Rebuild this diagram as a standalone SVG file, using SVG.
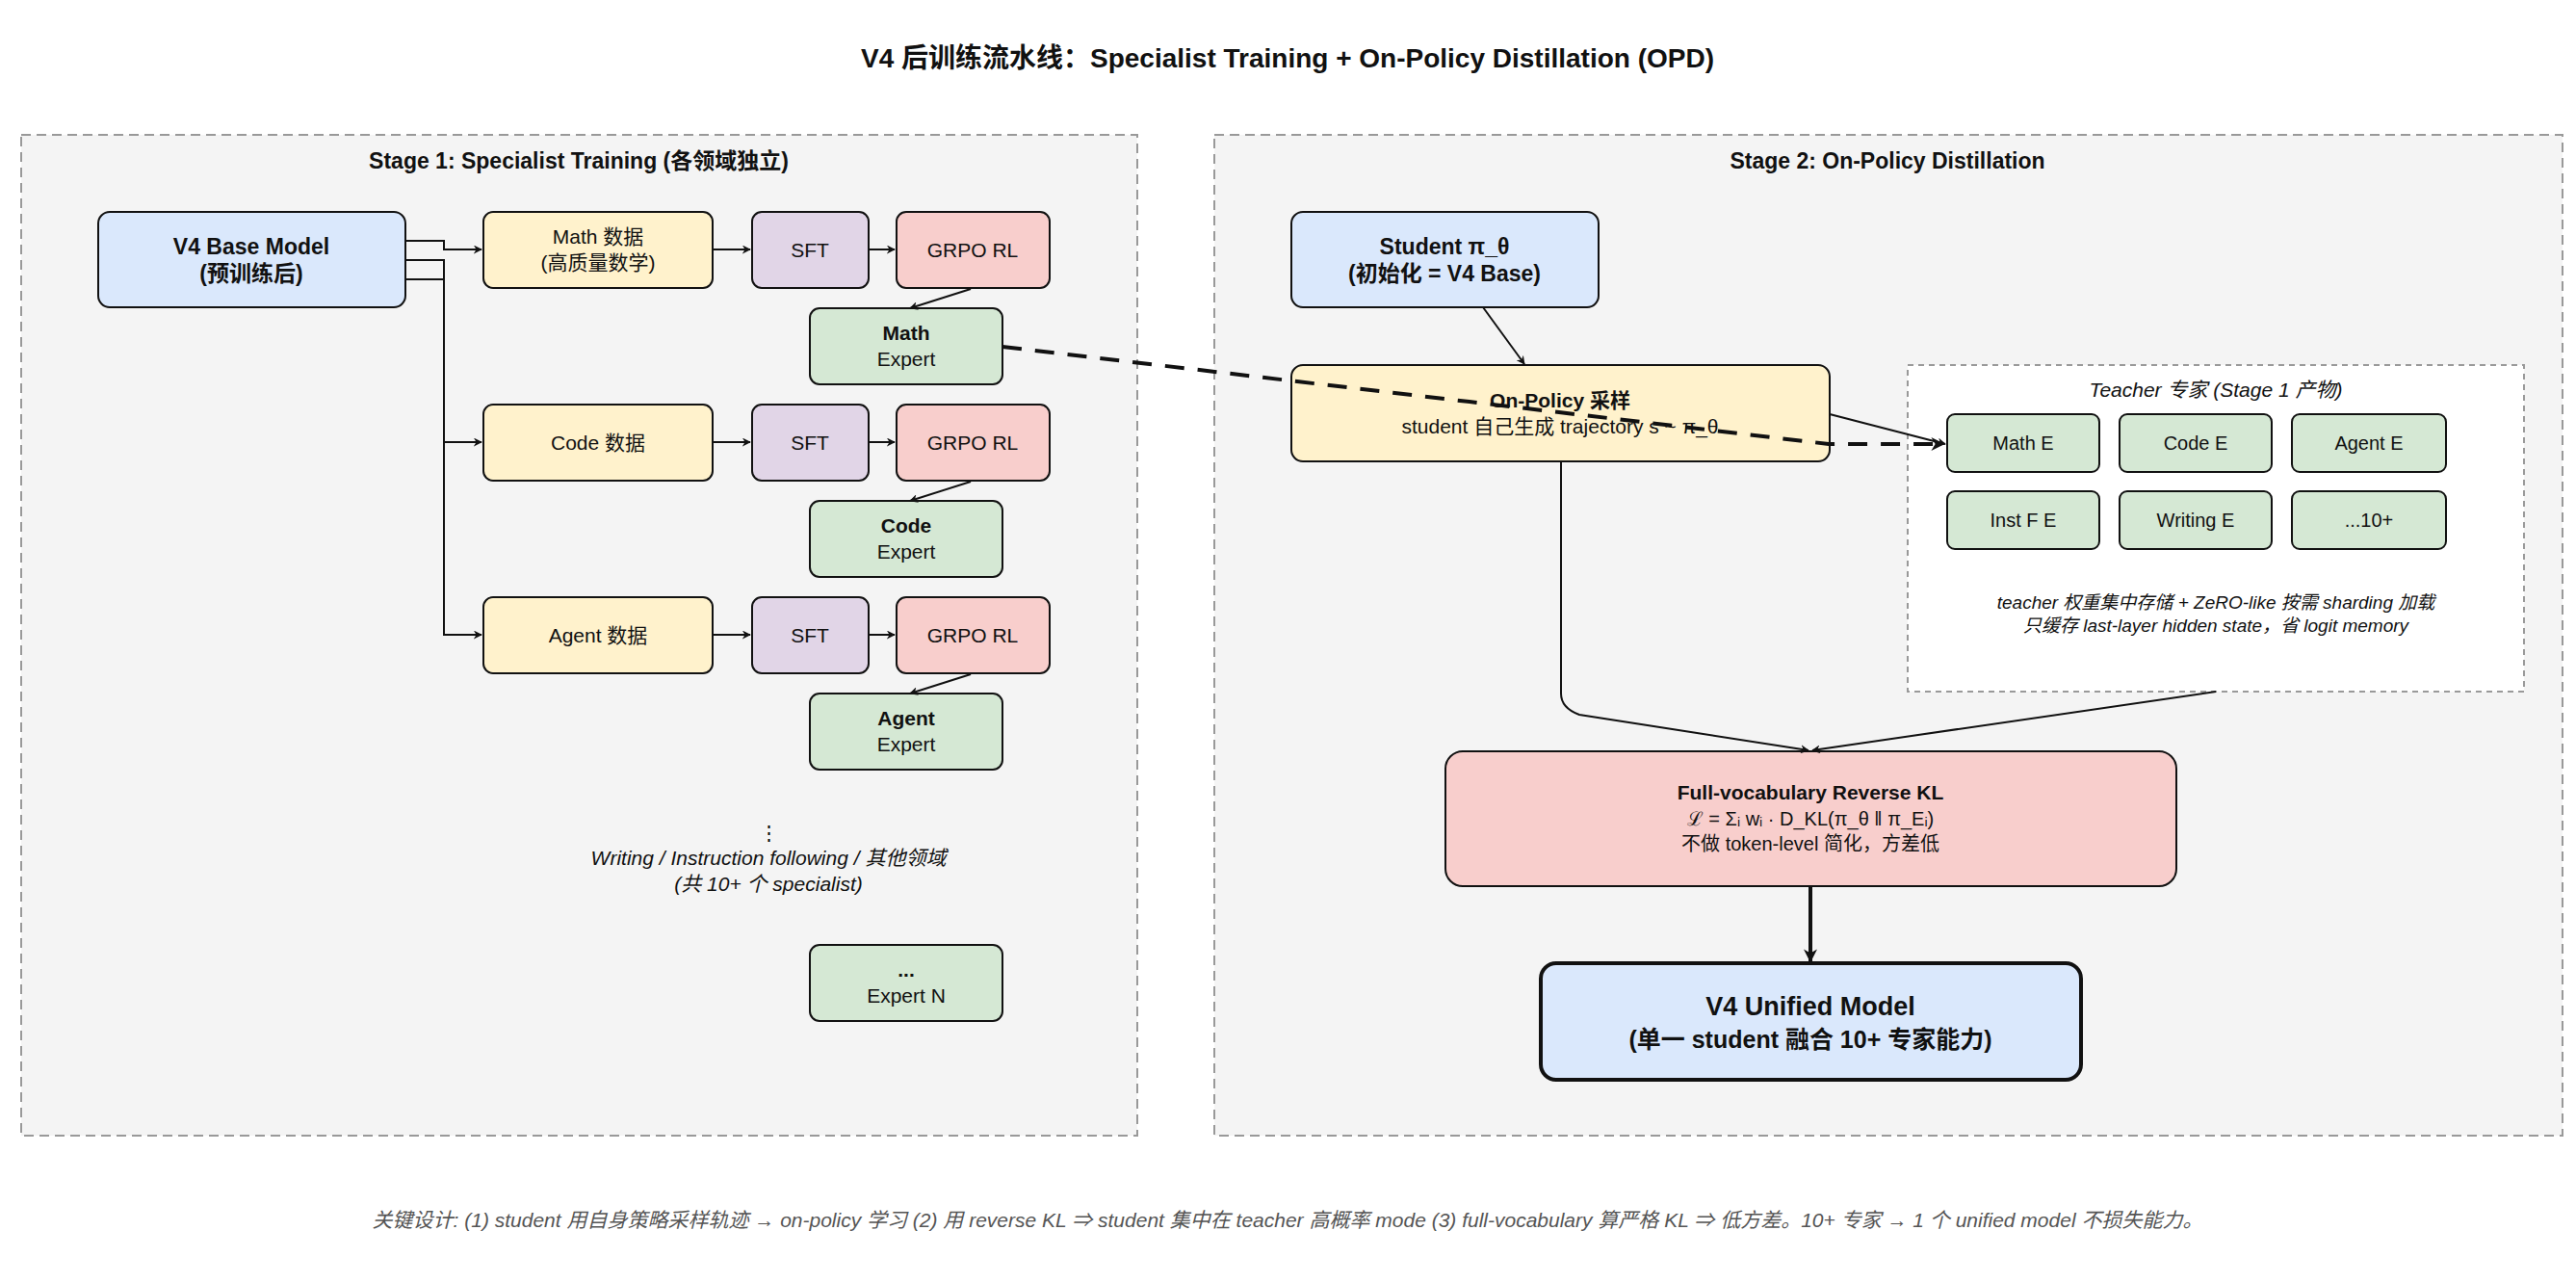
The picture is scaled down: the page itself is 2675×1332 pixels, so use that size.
<svg xmlns="http://www.w3.org/2000/svg" width="2675" height="1332" viewBox="0 0 2675 1332">
<style>
text{font-family:"Liberation Sans","Noto Sans CJK SC",sans-serif;fill:#111;text-anchor:middle}
.n{stroke:#111;stroke-width:2}
.b{font-weight:bold}
.it{font-style:italic}
.ln{fill:none;stroke:#111;stroke-width:2}
</style>
<defs>
<marker id="a" viewBox="0 0 10 10" refX="9" refY="5" markerWidth="9" markerHeight="9" markerUnits="userSpaceOnUse" orient="auto"><path d="M0,0L10,5L0,10L3,5z" fill="#111"/></marker>
<marker id="a2" viewBox="0 0 10 10" refX="9" refY="5" markerWidth="14" markerHeight="14" markerUnits="userSpaceOnUse" orient="auto"><path d="M0,0L10,5L0,10L3,5z" fill="#111"/></marker>
</defs>
<rect width="2675" height="1332" fill="#fff"/>
<text x="1337" y="70" class="b" font-size="28">V4 后训练流水线：Specialist Training + On-Policy Distillation (OPD)</text>
<g id="stage1"><rect x="22" y="140" width="1159" height="1039" fill="#f4f4f4" stroke="#999" stroke-width="2" stroke-dasharray="10 6"/>
<text x="601" y="175" class="b" font-size="23">Stage 1: Specialist Training (各领域独立)</text></g>
<g id="stage2"><rect x="1261" y="140" width="1400" height="1039" fill="#f4f4f4" stroke="#999" stroke-width="2" stroke-dasharray="10 6"/>
<text x="1960" y="175" class="b" font-size="23">Stage 2: On-Policy Distillation</text></g>
<g id="teacher"><rect x="1981" y="379" width="640" height="339" fill="#fff" stroke="#999" stroke-width="2" stroke-dasharray="6 5"/>
<text x="2301" y="412" class="it" font-size="21">Teacher 专家 (Stage 1 产物)</text>
<text x="2301" y="632" class="it" font-size="19">teacher 权重集中存储 + ZeRO-like 按需 sharding 加载</text>
<text x="2301" y="656" class="it" font-size="19">只缓存 last-layer hidden state，省 logit memory</text></g>

<g id="base"><rect class="n" x="102" y="220" width="319" height="99" rx="12" fill="#dae8fc"/><text x="261" y="264" class="b" font-size="23">V4 Base Model</text><text x="261" y="292" class="b" font-size="23">(预训练后)</text></g>
<g id="mathdata"><rect class="n" x="502" y="220" width="238" height="79" rx="10" fill="#fff2cc"/><text x="621" y="253" font-size="21">Math 数据</text><text x="621" y="280" font-size="21">(高质量数学)</text></g>
<g id="sft1"><rect class="n" x="781" y="220" width="121" height="79" rx="10" fill="#e1d5e7"/><text x="841" y="267" font-size="21">SFT</text></g>
<g id="grpo1"><rect class="n" x="931" y="220" width="159" height="79" rx="10" fill="#f8cecc"/><text x="1010" y="267" font-size="21">GRPO RL</text></g>
<g id="mathexp"><rect class="n" x="841" y="320" width="200" height="79" rx="10" fill="#d5e8d4"/><text x="941" y="353" class="b" font-size="21">Math</text><text x="941" y="380" font-size="21">Expert</text></g>
<g id="codedata"><rect class="n" x="502" y="420" width="238" height="79" rx="10" fill="#fff2cc"/><text x="621" y="467" font-size="21">Code 数据</text></g>
<g id="sft2"><rect class="n" x="781" y="420" width="121" height="79" rx="10" fill="#e1d5e7"/><text x="841" y="467" font-size="21">SFT</text></g>
<g id="grpo2"><rect class="n" x="931" y="420" width="159" height="79" rx="10" fill="#f8cecc"/><text x="1010" y="467" font-size="21">GRPO RL</text></g>
<g id="codeexp"><rect class="n" x="841" y="520" width="200" height="79" rx="10" fill="#d5e8d4"/><text x="941" y="553" class="b" font-size="21">Code</text><text x="941" y="580" font-size="21">Expert</text></g>
<g id="agentdata"><rect class="n" x="502" y="620" width="238" height="79" rx="10" fill="#fff2cc"/><text x="621" y="667" font-size="21">Agent 数据</text></g>
<g id="sft3"><rect class="n" x="781" y="620" width="121" height="79" rx="10" fill="#e1d5e7"/><text x="841" y="667" font-size="21">SFT</text></g>
<g id="grpo3"><rect class="n" x="931" y="620" width="159" height="79" rx="10" fill="#f8cecc"/><text x="1010" y="667" font-size="21">GRPO RL</text></g>
<g id="agentexp"><rect class="n" x="841" y="720" width="200" height="79" rx="10" fill="#d5e8d4"/><text x="941" y="753" class="b" font-size="21">Agent</text><text x="941" y="780" font-size="21">Expert</text></g>
<g id="others"><text x="798" y="872" font-size="21">⋮</text><text x="798" y="898" class="it" font-size="21">Writing / Instruction following / 其他领域</text><text x="798" y="925" class="it" font-size="21">(共 10+ 个 specialist)</text></g>
<g id="expn"><rect class="n" x="841" y="981" width="200" height="79" rx="10" fill="#d5e8d4"/><text x="941" y="1014" class="b" font-size="21">...</text><text x="941" y="1041" font-size="21">Expert N</text></g>

<g id="student"><rect class="n" x="1341" y="220" width="319" height="99" rx="12" fill="#dae8fc"/><text x="1500" y="264" class="b" font-size="23">Student π_θ</text><text x="1500" y="292" class="b" font-size="23">(初始化 = V4 Base)</text></g>
<g id="onpolicy"><rect class="n" x="1341" y="379" width="559" height="100" rx="12" fill="#fff2cc"/><text x="1620" y="423" class="b" font-size="21">On-Policy 采样</text><text x="1620" y="450" font-size="21">student 自己生成 trajectory s ~ π_θ</text></g>
<g id="t1"><rect class="n" x="2022" y="430" width="158" height="60" rx="8" fill="#d5e8d4"/><text x="2101" y="467" font-size="20">Math E</text></g>
<g id="t2"><rect class="n" x="2201" y="430" width="158" height="60" rx="8" fill="#d5e8d4"/><text x="2280" y="467" font-size="20">Code E</text></g>
<g id="t3"><rect class="n" x="2380" y="430" width="160" height="60" rx="8" fill="#d5e8d4"/><text x="2460" y="467" font-size="20">Agent E</text></g>
<g id="t4"><rect class="n" x="2022" y="510" width="158" height="60" rx="8" fill="#d5e8d4"/><text x="2101" y="547" font-size="20">Inst F E</text></g>
<g id="t5"><rect class="n" x="2201" y="510" width="158" height="60" rx="8" fill="#d5e8d4"/><text x="2280" y="547" font-size="20">Writing E</text></g>
<g id="t6"><rect class="n" x="2380" y="510" width="160" height="60" rx="8" fill="#d5e8d4"/><text x="2460" y="547" font-size="20">...10+</text></g>
<g id="kl"><rect class="n" x="1501" y="780" width="759" height="140" rx="18" fill="#f8cecc"/><text x="1880" y="830" class="b" font-size="21">Full-vocabulary Reverse KL</text><text x="1880" y="857" font-size="20">ℒ = Σᵢ wᵢ · D_KL(π_θ ‖ π_Eᵢ)</text><text x="1880" y="883" font-size="20">不做 token-level 简化，方差低</text></g>
<g id="unified"><rect x="1600" y="1000" width="561" height="121" rx="16" fill="#dae8fc" stroke="#111" stroke-width="4"/><text x="1880" y="1054" class="b" font-size="27">V4 Unified Model</text><text x="1880" y="1088" class="b" font-size="25">(单一 student 融合 10+ 专家能力)</text></g>

<g id="connectors">
<path class="ln" d="M421,250H461V259H500" marker-end="url(#a)"/>
<path class="ln" d="M421,270H461V459H500" marker-end="url(#a)"/>
<path class="ln" d="M421,290H461V659H500" marker-end="url(#a)"/>
<path class="ln" d="M740,259H779" marker-end="url(#a)"/><path class="ln" d="M902,259H929" marker-end="url(#a)"/>
<path class="ln" d="M740,459H779" marker-end="url(#a)"/><path class="ln" d="M902,459H929" marker-end="url(#a)"/>
<path class="ln" d="M740,659H779" marker-end="url(#a)"/><path class="ln" d="M902,659H929" marker-end="url(#a)"/>
<path class="ln" d="M1008,300L945,320" marker-end="url(#a)"/>
<path class="ln" d="M1008,500L945,520" marker-end="url(#a)"/>
<path class="ln" d="M1008,700L945,720" marker-end="url(#a)"/>
<path class="ln" d="M1540,319L1583,378" marker-end="url(#a)"/>
<path class="ln" d="M1900,430L2020,461" marker-end="url(#a)"/>
<path class="ln" d="M1621,479V720Q1621,735 1640,742L1878,779" marker-end="url(#a)"/>
<path class="ln" d="M2301,718L1882,779" marker-end="url(#a)"/>
<path fill="none" stroke="#111" stroke-width="4" d="M1880,920V998" marker-end="url(#a2)"/>
<path fill="none" stroke="#111" stroke-width="4" stroke-dasharray="20 14" d="M1041,360L1899,461H2018" marker-end="url(#a2)"/>
</g>
<text x="1337" y="1274" class="it" font-size="21" style="fill:#555">关键设计: (1) student 用自身策略采样轨迹 → on-policy 学习 (2) 用 reverse KL ⇒ student 集中在 teacher 高概率 mode (3) full-vocabulary 算严格 KL ⇒ 低方差。10+ 专家 → 1 个 unified model 不损失能力。</text>
</svg>
